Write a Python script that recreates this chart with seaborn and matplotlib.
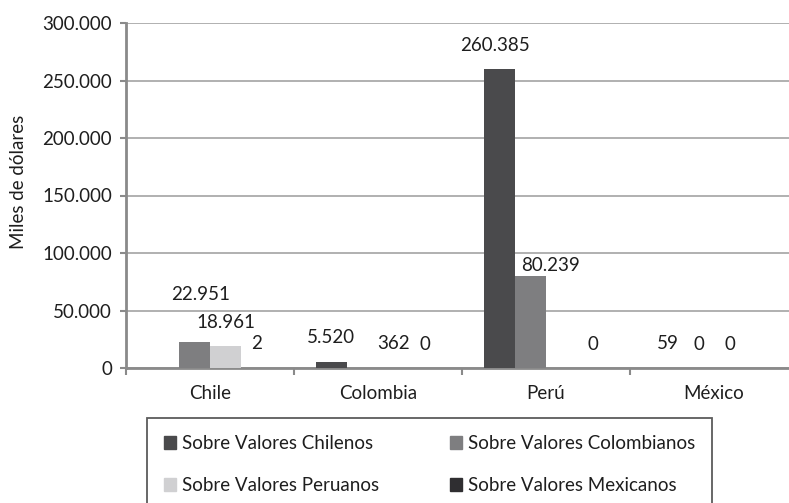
import matplotlib
matplotlib.use('agg')
import matplotlib.pyplot as plt
import matplotlib.ticker as mticker
import seaborn as sns
import numpy as np
import pandas as pd

sns.set_style("white")
plt.rcParams['font.family'] = ['Lato', 'DejaVu Sans']

paises = ["Chile", "Colombia", "Perú", "México"]
series = ["Sobre Valores Chilenos", "Sobre Valores Colombianos",
          "Sobre Valores Peruanos", "Sobre Valores Mexicanos"]
chilenos = [np.nan, 5520, 260385, 59]
colombianos = [22951, np.nan, 80239, 0]
peruanos = [18961, 362, np.nan, 0]
mexicanos = [2, 0, 0, np.nan]
colores = ["#4a4a4c", "#7e7e80", "#d0d0d2", "#2f2e31"]

# desplazamientos especiales de etiquetas (px): (dx, dy)
ajustes = {(0, 1): (6, 47), (2, 1): (20, 10), (2, 0): (-4, 23)}

df = pd.DataFrame({
    "pais": np.repeat(paises, 4),
    "serie": series * 4,
    "valor": np.array([chilenos, colombianos, peruanos, mexicanos]).T.ravel(),
})

fig = plt.figure(figsize=(7.89, 5.03), dpi=100)
ax = fig.add_axes([126 / 789, 1 - 368 / 503, 672 / 789, 345 / 503])
sns.barplot(data=df, x="pais", y="valor", hue="serie", order=paises,
            hue_order=series, palette=colores, width=0.74, saturation=1,
            linewidth=0, ax=ax, legend=False, zorder=3)

ax.set_ylim(0, 300000)
ax.set_xlim(-0.5, 3.5)
ax.set_yticks(np.arange(0, 300001, 50000))
ax.yaxis.set_major_formatter(mticker.FuncFormatter(
    lambda v, p: f"{v:,.0f}".replace(",", ".")))
ax.yaxis.grid(True, color="#a3a3a3", lw=1.2, zorder=0)
ax.set_axisbelow(True)

for s in ["top", "right"]:
    ax.spines[s].set_visible(False)
for s in ["left", "bottom"]:
    ax.spines[s].set_color("#8a8a8a")
    ax.spines[s].set_linewidth(2)

ax.tick_params(axis="y", left=True, length=4, width=1.5, color="#8a8a8a",
               pad=6, labelsize=13.5, labelcolor="#1e1e1e")
ax.set_xticks(np.arange(-0.5, 3.6, 1), minor=True)
ax.tick_params(axis="x", which="minor", bottom=True, length=5, width=1.5,
               color="#8a8a8a")
ax.tick_params(axis="x", which="major", bottom=False, length=0, pad=12,
               labelsize=13.5, labelcolor="#1e1e1e")
ax.set_xlabel("")
ax.set_ylabel("Miles de dólares", fontsize=13.5, color="#1e1e1e")
ax.yaxis.set_label_coords(-0.148, 0.54)

# etiquetas de datos
for k, cont in enumerate(ax.containers):
    for barra in cont:
        h = barra.get_height()
        if np.isnan(h):
            continue
        xc = barra.get_x() + barra.get_width() / 2
        i = int(round(xc))
        dx, dy = ajustes.get((i, k), (0, 24))
        ax.annotate(f"{h:,.0f}".replace(",", "."), (xc, h),
                    xytext=(dx * 0.72, dy * 0.72), textcoords="offset points",
                    ha="center", va="center", fontsize=13.5, color="#1e1e1e")

handles = [plt.Rectangle((0, 0), 1, 1, color=c) for c in colores]
orden = [0, 2, 1, 3]
leg = fig.legend([handles[j] for j in orden], [series[j] for j in orden],
                 ncol=2, loc="upper left", bbox_to_anchor=(147 / 789, 1 - 418 / 503),
                 frameon=True, fancybox=False, fontsize=13.5,
                 handlelength=0.65, handleheight=0.65, handletextpad=0.3,
                 columnspacing=3.8, labelspacing=1.35, borderpad=0.9,
                 borderaxespad=0)
leg.get_frame().set_edgecolor("#333333")
leg.get_frame().set_linewidth(1.3)
for t in leg.get_texts():
    t.set_color("#1e1e1e")

fig.savefig("out.png", dpi=100)
plt.close()
